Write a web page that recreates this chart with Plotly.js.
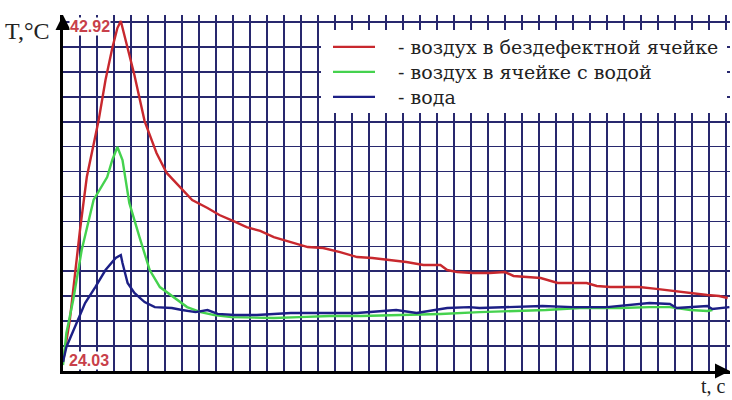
<!DOCTYPE html>
<html>
<head>
<meta charset="utf-8">
<script src="https://cdn.plot.ly/plotly-3.0.1.min.js"></script>
<style>html,body{margin:0;padding:0;background:#fff;}#chart{width:732px;height:400px;}</style>
</head>
<body>
<div id="chart"></div>
<script>
// ---- data (time in s, temperature in °C) ----
const seriesNames = ["- воздух в бездефектной ячейке", "- воздух в ячейке с водой", "- вода"];
const maxLabel = "42.92";
const minLabel = "24.03";
const yTitle = "T,°C";
const xTitle = "t, c";

const tRed = [0, 4, 10, 14, 21, 25, 29, 32, 34, 36, 42, 48, 55, 61, 69, 76, 85, 92, 100, 108, 116, 124, 134, 144, 153, 163, 173, 182, 192, 202, 212, 222, 226, 232, 241, 251, 260, 265, 281, 291, 308, 314, 322, 339, 349, 363, 379, 386, 391];
const vRed = [24.52, 26.78, 31.64, 34.50, 37.58, 39.74, 41.46, 42.54, 42.92, 42.16, 40.01, 37.52, 35.80, 34.72, 33.96, 33.26, 32.83, 32.45, 32.13, 31.80, 31.59, 31.26, 30.99, 30.72, 30.67, 30.45, 30.18, 30.13, 30.02, 29.91, 29.75, 29.75, 29.48, 29.37, 29.32, 29.32, 29.37, 29.16, 29.05, 28.78, 28.78, 28.62, 28.56, 28.56, 28.46, 28.29, 28.13, 28.08, 27.97];

const tGreen = [0, 2, 6, 9, 11, 18, 26, 29, 32, 35, 39, 45, 51, 57, 65, 73, 81, 89, 99, 113, 124, 139, 157, 175, 198, 222, 245, 263, 284, 304, 328, 345, 357, 369, 379, 382];
const vGreen = [24.35, 26.08, 27.86, 29.48, 30.56, 33.26, 34.50, 35.42, 36.12, 35.42, 33.10, 31.26, 29.48, 28.56, 28.02, 27.48, 27.21, 27.05, 26.94, 26.89, 26.89, 26.94, 27.00, 27.00, 27.05, 27.11, 27.21, 27.27, 27.32, 27.43, 27.43, 27.48, 27.48, 27.32, 27.27, 27.32];

const tBlue = [0, 2, 7, 13, 19, 25, 31, 34, 35, 38, 42, 48, 54, 64, 70, 78, 85, 91, 101, 114, 134, 153, 173, 196, 208, 226, 239, 245, 263, 282, 300, 320, 345, 357, 361, 379, 382, 392];
const vBlue = [24.52, 25.33, 26.40, 27.70, 28.56, 29.48, 30.13, 30.29, 29.86, 28.78, 28.24, 27.75, 27.48, 27.43, 27.32, 27.21, 27.32, 27.11, 27.05, 27.05, 27.16, 27.16, 27.16, 27.32, 27.16, 27.43, 27.48, 27.43, 27.48, 27.54, 27.48, 27.48, 27.70, 27.65, 27.43, 27.54, 27.38, 27.48];

// ---- layout geometry ----
const W = 732, H = 400;
const mL = 63, mR = 2, mT = 15, mB = 29;
const plotW = W - mL - mR, plotH = H - mT - mB;
const pxPerSec = 1.7, pxPerDeg = 18.528;
const yMin = 24.03;
const yMax = yMin + plotH / pxPerDeg;
const xMax = plotW / pxPerSec;
const yGridStep = 349 / 14 / pxPerDeg;

function px2paperX(px) { return (px - mL) / plotW; }
function px2paperY(py) { return (H - mB - py) / plotH; }

const SERIF = "DejaVu Serif";
const colors = ["#c8282e", "#45d24e", "#1c1f86"];
const legendRowsY = [47, 72, 97];
const pad = "\u00a0\u00a0\u00a0";

const traces = [
  {x: tRed, y: vRed, name: pad + seriesNames[0], legend: "legend"},
  {x: tGreen, y: vGreen, name: pad + seriesNames[1], legend: "legend2"},
  {x: tBlue, y: vBlue, name: pad + seriesNames[2], legend: "legend3"}
].map((t, i) => Object.assign(t, {
  type: "scatter", mode: "lines",
  line: {color: colors[i], width: 2.4},
  hoverinfo: "skip"
}));

function legendCfg(i) {
  return {
    x: px2paperX(328), xanchor: "left",
    y: px2paperY(legendRowsY[i]), yanchor: "middle",
    bgcolor: "rgba(255,255,255,0)", borderwidth: 0,
    font: {family: SERIF, size: 19, color: "#222222"},
    itemwidth: 42
  };
}

const layout = {
  width: W, height: H,
  font: {family: SERIF, size: 19, color: "#222222"},
  margin: {l: mL, r: mR, t: mT, b: mB, pad: 0},
  paper_bgcolor: "#ffffff", plot_bgcolor: "#ffffff",
  showlegend: true,
  legend: legendCfg(0), legend2: legendCfg(1), legend3: legendCfg(2),
  xaxis: {
    range: [0, xMax], tick0: 0, dtick: 10,
    showgrid: true, gridcolor: "#28286e", gridwidth: 1.6,
    showticklabels: false, ticks: "", zeroline: false,
    showline: true, linecolor: "#000", linewidth: 3
  },
  yaxis: {
    range: [yMin, yMax], tick0: yMin, dtick: yGridStep,
    showgrid: true, gridcolor: "#28286e", gridwidth: 1.6,
    showticklabels: false, ticks: "", zeroline: false,
    showline: true, linecolor: "#000", linewidth: 3
  },
  shapes: [
    {type: "rect", xref: "paper", yref: "paper", layer: "above",
     x0: px2paperX(321), x1: px2paperX(727), y0: px2paperY(113), y1: px2paperY(30),
     fillcolor: "#ffffff", line: {width: 0}}
  ],
  annotations: [
    {xref: "paper", yref: "paper", x: 0, y: 1, ax: 0, ay: 14, axref: "pixel", ayref: "pixel",
     showarrow: true, arrowhead: 2, arrowsize: 1, arrowwidth: 3, arrowcolor: "#000", text: ""},
    {xref: "paper", yref: "paper", x: 1, y: 0, ax: -14, ay: 0, axref: "pixel", ayref: "pixel",
     showarrow: true, arrowhead: 2, arrowsize: 1, arrowwidth: 3, arrowcolor: "#000", text: ""},
    {xref: "paper", yref: "paper", x: px2paperX(3), y: px2paperY(31), xanchor: "left", yanchor: "middle",
     text: yTitle, showarrow: false,
     font: {family: "Liberation Serif", size: 24, color: "#222"}},
    {xref: "paper", yref: "paper", x: px2paperX(727), y: px2paperY(386), xanchor: "right", yanchor: "middle",
     text: xTitle, showarrow: false, borderpad: 0,
     font: {family: "Liberation Serif", size: 20, color: "#222"}},
    {xref: "paper", yref: "paper", x: px2paperX(90), y: px2paperY(27), xanchor: "center", yanchor: "middle",
     text: maxLabel, showarrow: false, bgcolor: "#ffffff", borderpad: 0,
     font: {family: "Liberation Sans", size: 16, color: "#c8404a", weight: "bold"}},
    {xref: "paper", yref: "paper", x: px2paperX(89), y: px2paperY(360), xanchor: "center", yanchor: "middle",
     text: minLabel, showarrow: false, bgcolor: "#ffffff", borderpad: 0,
     font: {family: "Liberation Sans", size: 16, color: "#c8404a", weight: "bold"}}
  ]
};

Plotly.newPlot("chart", traces, layout, {staticPlot: true, displayModeBar: false});
</script>
</body>
</html>
